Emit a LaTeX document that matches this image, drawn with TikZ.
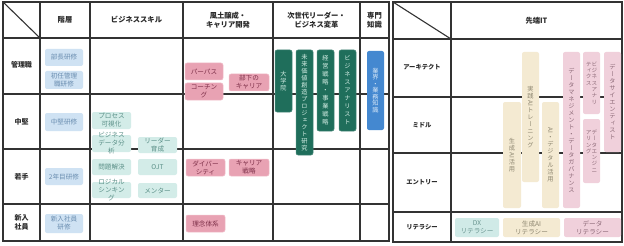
\documentclass[tikz,border=0pt]{standalone}
\usepackage{fontspec}
\usepackage{graphicx}
\setmainfont{Noto Sans CJK JP}
\newfontfamily\vjp[RawFeature=+vert]{Noto Sans CJK JP}
\makeatletter
\newcommand\vtext[2][7pt]{\vtop{\vjp\baselineskip=#1\relax\lineskiplimit=-50pt\lineskip=0pt\@tfor\vt@c:=#2\do{\hbox to 1em{\hss\vt@c\hss}}}}
\makeatother
\newcommand\sw[1]{\rotatebox[origin=c]{-90}{#1}}
\newcommand\bx[8]{\pgfmathsetmacro\mybw{#6-#4}\pgfmathsetmacro\mybh{#7-#5}%
\node[#1, minimum width=\mybw pt, minimum height=\mybh pt] (#3) at ({(#4+#6)/2},{(#5+#7)/2}) {};%
\node[#2] (#3-t) at (#3.center) {#8};}
\definecolor{linec}{HTML}{333333}
\definecolor{bluef}{HTML}{CFE2F3}
\definecolor{bluet}{HTML}{6A8DB0}
\definecolor{tealf}{HTML}{D3ECE8}
\definecolor{tealt}{HTML}{5A8F87}
\definecolor{pinkf}{HTML}{E8A2B3}
\definecolor{pinkd}{HTML}{F2C0CC}
\definecolor{pinkt}{HTML}{7E3049}
\definecolor{greenf}{HTML}{1F6E5B}
\definecolor{greent}{HTML}{D5EFE6}
\definecolor{dbluef}{HTML}{4488D0}
\definecolor{dbluet}{HTML}{D8E8F8}
\definecolor{beigef}{HTML}{F4EAD2}
\definecolor{beiget}{HTML}{8D8670}
\definecolor{lpinkf}{HTML}{F0D0DB}
\definecolor{lpinkt}{HTML}{8D6A78}
\definecolor{dxf}{HTML}{D0EAE7}
\definecolor{dxt}{HTML}{6A9590}
\definecolor{hdrt}{HTML}{2A2A2A}
\tikzset{
  grid/.style={draw=linec, line width=1.1pt},
  bxx/.style={rounded corners=2pt, inner sep=0pt, outer sep=0pt},
  bluebox/.style={bxx, fill=bluef},
  tealbox/.style={bxx, fill=tealf},
  pinkbox/.style={bxx, fill=pinkf, draw=pinkd, line width=0.5pt},
  greenbox/.style={bxx, fill=greenf, draw=greenf!80!white, line width=0.5pt},
  dbluebox/.style={bxx, fill=dbluef},
  beigebox/.style={bxx, fill=beigef},
  lpinkbox/.style={bxx, fill=lpinkf},
  dxbox/.style={bxx, fill=dxf},
  tx/.style={inner sep=0pt, align=center, font=\fontsize{6.6}{8}\selectfont},
  vx/.style={inner sep=0pt, font=\fontsize{6.2}{7}\selectfont},
  vxs/.style={inner sep=0pt, font=\fontsize{5.6}{6}\selectfont},
  hdr/.style={inner sep=0pt, align=center, text=hdrt, font=\bfseries\fontsize{7.3}{9.5}\selectfont},
  rowlab/.style={inner sep=0pt, align=center, text=hdrt, font=\bfseries\fontsize{7}{9}\selectfont},
  rowlabr/.style={inner sep=0pt, align=center, text=hdrt, font=\bfseries\fontsize{6.3}{8}\selectfont},
}
\begin{document}
\begin{tikzpicture}[x=1pt, y=-1pt]
\useasboundingbox (0,0) rectangle (624,246);
\fill[white] (0,0) rectangle (624,246);
% ---------- left table grid
\foreach \xx in {40,90,183,273,360} \draw[grid] (\xx,2) -- (\xx,241);
\foreach \yy in {38,94,149,204} \draw[grid] (3,\yy) -- (389,\yy);
\draw[grid] (3,2) -- (40,38);
\draw[grid] (3,2) rectangle (389,241);
% ---------- right table grid
\draw[grid] (451,2) -- (451,242);
\foreach \yy in {39,97,153,212} \draw[grid] (393,\yy) -- (622,\yy);
\draw[grid] (393,2) -- (451,39);
\draw[grid] (393,2) rectangle (622,242);
% ---------- headers
\node[hdr] (h1) at (65,20) {階層};
\node[hdr] (h2) at (136.5,20) {ビジネススキル};
\node[hdr] (h3) at (228,20) {風土醸成・\\キャリア開発};
\node[hdr] (h4) at (316.5,20) {次世代リーダー・\\ビジネス変革};
\node[hdr] (h5) at (374.5,20) {専門\\知識};
\node[hdr] (h6) at (536.5,20.5) {先端IT};
% ---------- row labels
\node[rowlab] (r1) at (21.5,65) {管理職};
\node[rowlab] (r2) at (21.5,121.5) {中堅};
\node[rowlab] (r3) at (21.5,176.5) {若手};
\node[rowlab] (r4) at (21.5,222.5) {新入\\社員};
\node[rowlabr] (q1) at (422,67.5) {アーキテクト};
\node[rowlabr] (q2) at (422,125.5) {ミドル};
\node[rowlabr] (q3) at (422,182.5) {エントリー};
\node[rowlabr] (q4) at (422,227) {リテラシー};
% ---------- 階層
\bx{bluebox}{tx,text=bluet}{k1}{45}{49}{83}{66}{部長研修}
\bx{bluebox}{tx,text=bluet}{k2}{45}{71}{83}{89}{初任管理\\職研修}
\bx{bluebox}{tx,text=bluet}{k3}{45}{113}{83}{131}{中堅研修}
\bx{bluebox}{tx,text=bluet}{k4}{45}{168}{83}{185}{2年目研修}
\bx{bluebox}{tx,text=bluet}{k5}{45}{214}{83}{233}{新入社員\\研修}
% ---------- ビジネススキル
\bx{tealbox}{tx,text=tealt}{s1}{92}{112}{131}{129}{プロセス\\可視化}
\bx{tealbox}{tx,text=tealt}{s2}{92}{135}{131}{152}{ビジネス\\データ分\\析}
\bx{tealbox}{tx,text=tealt}{s3}{138}{137}{177}{153}{リーダー\\育成}
\bx{tealbox}{tx,text=tealt}{s4}{92}{159}{131}{175}{問題解決}
\bx{tealbox}{tx,text=tealt}{s5}{138}{159}{177}{175}{OJT}
\bx{tealbox}{tx,text=tealt}{s6}{92}{182}{131}{198}{ロジカル\\シンキン\\グ}
\bx{tealbox}{tx,text=tealt}{s7}{138}{183}{177}{198}{メンター}
% ---------- 風土醸成
\bx{pinkbox}{tx,text=pinkt}{c1}{185}{63}{223}{80}{パーパス}
\bx{pinkbox}{tx,text=pinkt}{c2}{185}{83}{223}{100}{コーチン\\グ}
\bx{pinkbox}{tx,text=pinkt}{c3}{229}{74}{269}{91}{部下の\\キャリア}
\bx{pinkbox}{tx,text=pinkt}{c4}{186}{159}{225}{176}{ダイバー\\シティ}
\bx{pinkbox}{tx,text=pinkt}{c5}{229}{159}{269}{176}{キャリア\\戦略}
\bx{pinkbox}{tx,text=pinkt}{c6}{186}{215}{225}{232}{理念体系}
% ---------- 次世代
\bx{greenbox}{vx,text=greent}{n1}{275}{50}{292}{112}{\vtext{大学院}}
\bx{greenbox}{vx,text=greent}{n2}{296}{50}{313}{155}{\vtext{未来価値創造プロジェクト研究}}
\bx{greenbox}{vx,text=greent}{n3}{317}{50}{334}{131}{\vtext[8pt]{経営戦略・事業戦略}}
\bx{greenbox}{vx,text=greent}{n4}{339}{50}{356}{131}{\vtext[8pt]{ビジネスアナリスト}}
% ---------- 専門知識
\bx{dbluebox}{vx,text=dbluet}{e1}{367}{51}{384}{130}{\vtext[6.5pt]{業界・業務知識}}
% ---------- 先端IT
\bx{beigebox}{vx,text=beiget}{i1}{503}{102}{521}{208}{\vtext{生成{\sw{AI}}活用}}
\bx{beigebox}{vx,text=beiget}{i2}{522}{52}{539}{182}{\vtext{実践{\sw{AI}}トレーニング}}
\bx{beigebox}{vx,text=beiget}{i3}{542}{102}{559}{208}{\vtext{{\sw{AI}}・デジタル活用}}
\bx{lpinkbox}{vx,text=lpinkt}{i4}{563}{52}{580}{208}{\vtext{データマネジメント・データガバナンス}}
\bx{lpinkbox}{vxs,text=lpinkt}{i5}{583}{52}{600}{114}{\hbox{\vtext[6.3pt]{ティクス}\vtext[6.3pt]{ビジネスアナリ}}}
\bx{lpinkbox}{vxs,text=lpinkt}{i6}{583}{119}{600}{183}{\hbox{\vtext[6.3pt]{アリング}\vtext[6.3pt]{データエンジニ}}}
\bx{lpinkbox}{vx,text=lpinkt}{i7}{604}{52}{621}{152}{\vtext{データサイエンティスト}}
% ---------- リテラシー
\bx{dxbox}{tx,text=dxt}{l1}{455}{218}{499}{237}{DX\\リテラシー}
\bx{beigebox}{tx,text=beiget}{l2}{503}{218}{560}{237}{生成AI\\リテラシー}
\bx{lpinkbox}{tx,text=lpinkt}{l3}{564}{218}{621}{237}{データ\\リテラシー}
\end{tikzpicture}
\end{document}
